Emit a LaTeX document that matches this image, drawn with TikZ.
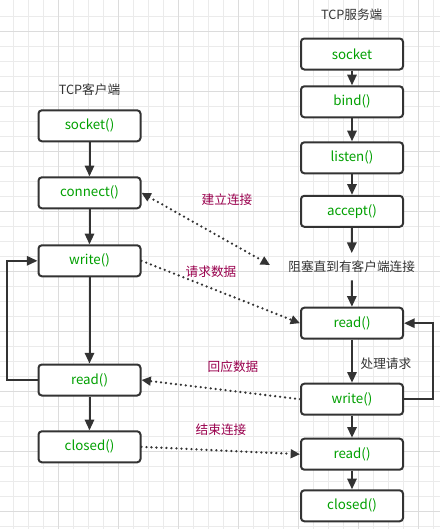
\documentclass[tikz,border=0pt]{standalone}
\usepackage{fontspec}
\setmainfont{Noto Sans CJK SC}
\usetikzlibrary{arrows.meta}
\definecolor{gridl}{HTML}{EBEBEB}
\definecolor{gridd}{HTML}{DCDCDC}
\definecolor{boxc}{HTML}{333333}
\definecolor{fng}{HTML}{00A000}
\definecolor{lblc}{HTML}{99004D}
\definecolor{ttl}{HTML}{333333}
\tikzset{
  stepbox/.style={draw=boxc, line width=1.5pt, rounded corners=2.5pt, fill=white,
    minimum width=76.5pt, minimum height=23.25pt, text=fng, font=\fontsize{10pt}{12pt}\selectfont, inner sep=0pt},
  ttltext/.style={text=ttl, font=\fontsize{9.5pt}{11pt}\selectfont, inner sep=1pt},
  lbltext/.style={text=lblc, font=\fontsize{9.5pt}{11pt}\selectfont, inner sep=1pt},
  arr/.style={draw=boxc, line width=1.5pt, -{Triangle[length=8pt,width=7pt]}},
  dotarr/.style={draw=boxc, line width=1.9pt, line cap=round, dash pattern=on 0pt off 3.75pt, -{Triangle[length=7pt,width=6.5pt,line cap=butt]}},
}
\begin{document}
\begin{tikzpicture}[x=0.75pt,y=-0.75pt]
\useasboundingbox (0,0) rectangle (440,529);
% grid
\foreach \k in {0,...,28}{\draw[gridl, line width=0.75pt] ({13.7+15*\k},0) -- ({13.7+15*\k},529);}
\foreach \k in {0,...,34}{\draw[gridl, line width=0.75pt] (0,{16+15*\k}) -- (440,{16+15*\k});}
\foreach \k in {3,7,...,27}{\draw[gridd, line width=0.75pt] ({13.7+15*\k},0) -- ({13.7+15*\k},529);}
\foreach \k in {1,5,...,33}{\draw[gridd, line width=0.75pt] (0,{16+15*\k}) -- (440,{16+15*\k});}

% titles
\node[ttltext] (tc) at (89.5,90) {TCP客户端};
\node[ttltext] (ts) at (351.7,15) {TCP服务端};

% client column
\node[stepbox] (csock) at (89.5,125.8) {socket()};
\node[stepbox] (cconn) at (89.5,192.8) {connect()};
\node[stepbox] (cwrite) at (89.5,260.8) {write()};
\node[stepbox] (cread) at (89.5,380) {read()};
\node[stepbox] (cclose) at (89.5,446.8) {closed()};

% server column
\node[stepbox] (ssock) at (352,54) {socket};
\node[stepbox] (sbind) at (352,101.8) {bind()};
\node[stepbox] (slisten) at (352,157.8) {listen()};
\node[stepbox] (saccept) at (352,211.3) {accept()};
\node[ttltext, inner sep=0pt, minimum height=20pt] (blk) at (351.7,266.7) {阻塞直到有客户端连接};
\node[stepbox] (sread) at (352,323.2) {read()};
\node[stepbox] (swrite) at (352,399.2) {write()};
\node[stepbox] (sread2) at (352,454.2) {read()};
\node[stepbox] (sclose) at (352,505.8) {closed()};
\node[ttltext, anchor=west] (proc) at (359,363.3) {处理请求};

% client arrows
\draw[arr] (csock) -- (cconn);
\draw[arr] (cconn) -- (cwrite);
\draw[arr] (cwrite) -- (cread);
\draw[arr] (cread) -- (cclose);
\draw[arr] (cread.west) -- ++(-31,0) |- (cwrite.west);

% server arrows
\draw[arr] (ssock) -- (sbind);
\draw[arr] (sbind) -- (slisten);
\draw[arr] (slisten) -- (saccept);
\draw[arr] (saccept) -- (blk);
\draw[arr] (blk) -- (sread);
\draw[arr] (sread) -- (swrite);
\draw[arr] (swrite) -- (sread2);
\draw[arr] (sread2) -- (sclose);
\draw[arr] (swrite.east) -- ++(29,0) |- (sread.east);

% dotted connectors
\coordinate (cw) at (270,265);
\draw[dotarr, {Triangle[length=7pt,width=6.5pt,line cap=butt]}-{Triangle[length=7pt,width=6.5pt,line cap=butt]}] (cconn.east) -- (cw);
\draw[dotarr] (cwrite.east) -- (sread.west);
\draw[dotarr] (swrite.west) -- (cread.east);
\draw[dotarr] (cclose.east) -- (sread2.west);

% labels
\node[lbltext] (l1) at (227,200) {建立连接};
\node[lbltext] (l2) at (211,272) {请求数据};
\node[lbltext] (l3) at (233,367) {回应数据};
\node[lbltext] (l4) at (221,430) {结束连接};
\end{tikzpicture}
\end{document}
